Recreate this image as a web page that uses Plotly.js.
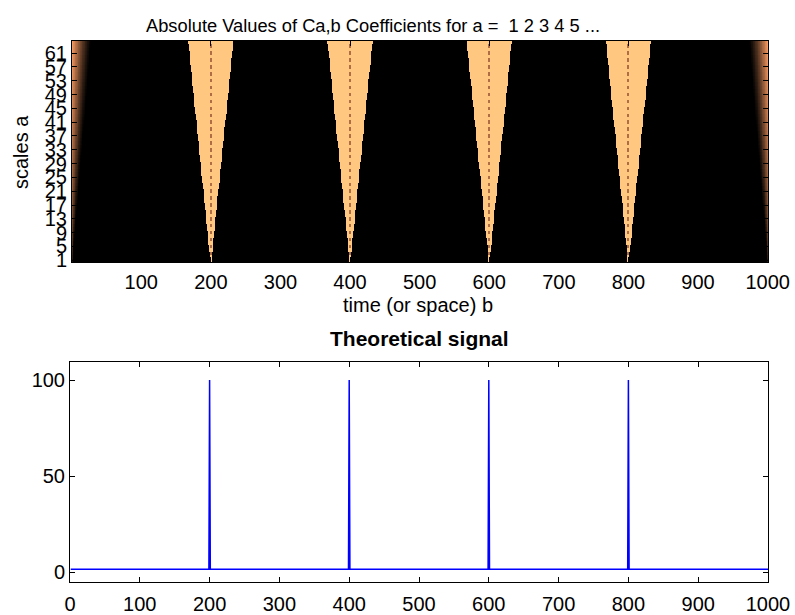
<!DOCTYPE html>
<html><head><meta charset="utf-8">
<script src="https://cdn.plot.ly/plotly-3.0.1.min.js"></script>
<style>html,body{margin:0;padding:0;background:#fff}#plot{width:795px;height:615px}</style>
</head><body><div id="plot"></div>
<script>
// ---- data ----
const scaleTickVals = [1,5,9,13,17,21,25,29,33,37,41,45,49,53,57,61];
const scaleTickText = ['1','5','9','13','17','21','25','29','33','37','41','45','49','53','57','61'];
const timeTickVals  = [100,200,300,400,500,600,700,800,900,1000];
const signalTickVals = [0,50,100];
const spikePositions = [200,400,600,800];
const coneHalfWidthPerScale = 0.5;   // cone half-width (in b units) per unit of scale
const coneValue = 1.0;               // saturated colour inside cones
const coneCentreOddValue = 0.55;     // darker dashes along cone axis (odd scales)
const edgeWidthPerScale = 0.42;      // border-effect width per unit of scale
const edgePeakAtMaxScale = 0.78;     // border-effect brightness at a = 64
const nScales = 64, nTimes = 1000;
// signal: constant baseline with single-sample spikes
const signalX = [1,199,200,201,399,400,401,599,600,601,799,800,801,1000];
const signalY = [1.5,1.5,100,1.5,1.5,100,1.5,1.5,100,1.5,1.5,100,1.5,1.5];

// ---- build coefficient image ----
const bAxis = [], aAxis = [];
for (let b = 1; b <= nTimes; b++) bAxis.push(b);
for (let a = 1; a <= nScales; a++) aAxis.push(a);
const z = aAxis.map(a => bAxis.map(b => {
  let v = 0;
  for (const s of spikePositions) {
    const d = Math.abs(b - s);
    if (d <= Math.max(1, coneHalfWidthPerScale * a)) {
      v = Math.max(v, (d <= 1 && a % 2 === 1 && a > 2) ? coneCentreOddValue : coneValue);
    }
  }
  const w = edgeWidthPerScale * a;
  const peak = edgePeakAtMaxScale * Math.sqrt(a / nScales);
  const dl = b - 1, dr = nTimes - b;
  if (dl < w) v = Math.max(v, peak * Math.pow(1 - dl / w, 1.3));
  if (dr < w) v = Math.max(v, peak * Math.pow(1 - dr / w, 1.3));
  return v;
}));

const copper = [[0,'rgb(0,0,0)'],[0.8,'rgb(255,159,101)'],[1,'rgb(255,199,127)']];
const F = 'Liberation Sans, Arial, sans-serif';
const W = 795, H = 615;
const px = x => x / W, py = y => 1 - y / H;

const traces = [
  {type:'heatmap', x:bAxis, y:aAxis, z:z, colorscale:copper, zmin:0, zmax:1,
   showscale:false, hoverinfo:'skip', xaxis:'x', yaxis:'y', zsmooth:false},
  {type:'scatter', mode:'lines', x:signalX, y:signalY, line:{color:'rgb(0,0,255)', width:1.5},
   xaxis:'x2', yaxis:'y2', hoverinfo:'skip', showlegend:false}
];

const axCommon = {showline:true, linecolor:'#000', linewidth:1, mirror:'ticks', ticks:'inside',
  ticklen:5, tickcolor:'#000', showgrid:false, zeroline:false, tickfont:{family:F, size:20, color:'#000'}};

const layout = {
  width:W, height:H, margin:{l:0,r:0,t:0,b:0}, paper_bgcolor:'#fff', plot_bgcolor:'#fff',
  showlegend:false, font:{family:F, color:'#000'},
  xaxis: Object.assign({}, axCommon, {domain:[px(72), px(768)], range:[0.5,1000.5], tickvals:timeTickVals, anchor:'y', ticklabelstandoff:2}),
  yaxis: Object.assign({}, axCommon, {domain:[py(262), py(41)], range:[0.5,64.5], tickvals:scaleTickVals, ticktext:scaleTickText, anchor:'x'}),
  xaxis2: Object.assign({}, axCommon, {domain:[px(70), px(768)], range:[0,1000], tickvals:[0,100,200,300,400,500,600,700,800,900,1000], anchor:'y2', ticklabelstandoff:4}),
  yaxis2: Object.assign({}, axCommon, {domain:[py(582), py(362)], range:[-5.2,109.4], tickvals:signalTickVals, anchor:'x2'}),
  annotations: [
    {text:'Absolute Values of Ca,b Coefficients for a =  1 2 3 4 5 ...', xref:'paper', yref:'paper', x:px(373), y:py(26), xanchor:'center', yanchor:'middle', showarrow:false, font:{family:F, size:18.3, color:'#000'}},
    {text:'time (or space) b', xref:'paper', yref:'paper', x:px(418), y:py(305), xanchor:'center', yanchor:'middle', showarrow:false, font:{family:F, size:20, color:'#000'}},
    {text:'scales a', xref:'paper', yref:'paper', x:px(21), y:py(152), xanchor:'center', yanchor:'middle', textangle:-90, showarrow:false, font:{family:F, size:20, color:'#000'}},
    {text:'<b>Theoretical signal</b>', xref:'paper', yref:'paper', x:px(419), y:py(338), xanchor:'center', yanchor:'middle', showarrow:false, font:{family:F, size:21, color:'#000'}}
  ]
};
Plotly.newPlot('plot', traces, layout, {staticPlot:true, displayModeBar:false});
</script></body></html>
